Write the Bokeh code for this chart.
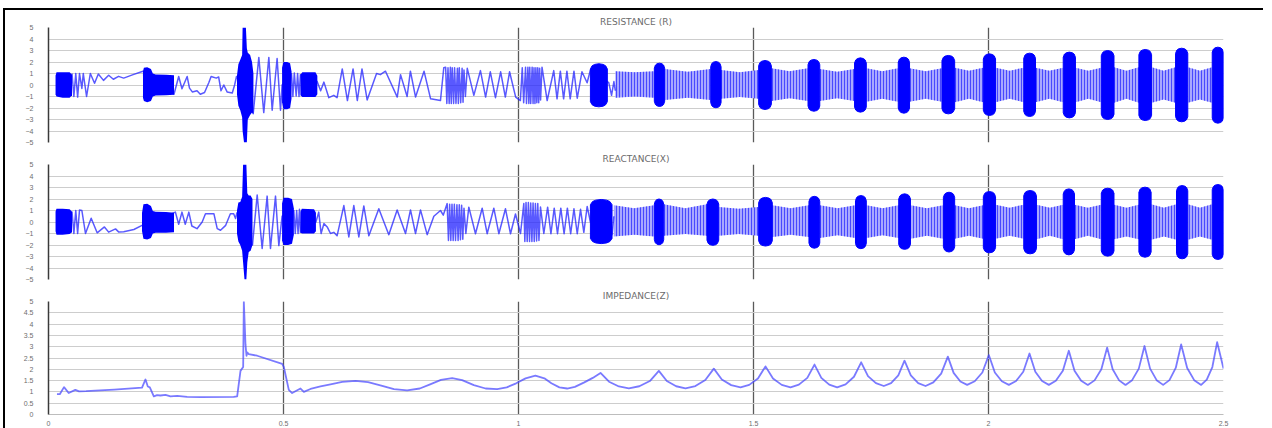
from bokeh.plotting import figure
from bokeh.layouts import column
from bokeh.models import Range1d, FixedTicker
from bokeh.embed import file_html
from bokeh.resources import INLINE

# ---------------- data ----------------
x_ticks = [0, 0.5, 1, 1.5, 2, 2.5]
x_tick_labels = ["0", "0.5", "1", "1.5", "2", "2.5"]
rx_ticks = [-5, -4, -3, -2, -1, 0, 1, 2, 3, 4, 5]
z_ticks = [0, 0.5, 1, 1.5, 2, 2.5, 3, 3.5, 4, 4.5, 5]
z_tick_labels = ["0", "0.5", "1", "1.5", "2", "2.5", "3", "3.5", "4", "4.5", "5"]
titles = ["RESISTANCE (R)", "REACTANCE(X)", "IMPEDANCE(Z)"]

# --- Resistance: resolved oscillation turning points
r_wave_t = [0.050, 0.054, 0.058, 0.062, 0.066, 0.071, 0.074, 0.081, 0.089, 0.098, 0.106, 0.117, 0.128, 0.138, 0.149, 0.160, 0.180, 0.201,
            0.267, 0.277, 0.284, 0.295, 0.300, 0.306, 0.316, 0.323, 0.332, 0.341, 0.346, 0.357, 0.362, 0.367, 0.373, 0.380, 0.391, 0.396, 0.400,
            0.4355, 0.4475, 0.458, 0.4688, 0.4759, 0.4864, 0.4936, 0.497,
            0.517, 0.520, 0.523, 0.527, 0.530, 0.533, 0.536,
            0.5716, 0.579, 0.586, 0.5965, 0.607, 0.614, 0.625, 0.636, 0.648, 0.657, 0.667, 0.678, 0.698, 0.706, 0.717, 0.742, 0.749, 0.763, 0.770, 0.781, 0.799, 0.813, 0.834, 0.841,
            0.845, 0.8475, 0.850, 0.8525, 0.855, 0.857, 0.859, 0.862, 0.864, 0.867, 0.870, 0.872, 0.874, 0.877, 0.880, 0.882, 0.884,
            0.887, 0.891, 0.905, 0.919, 0.930, 0.940, 0.951, 0.962, 0.972, 0.981, 0.994, 1.004, 1.008,
            1.011, 1.015, 1.017, 1.020, 1.022, 1.024, 1.026, 1.029, 1.031, 1.033, 1.035, 1.037, 1.039, 1.041, 1.043, 1.045,
            1.047, 1.050, 1.061, 1.075, 1.082, 1.089, 1.096, 1.103, 1.110, 1.118, 1.125, 1.135, 1.146, 1.153,
            1.192, 1.198, 1.203, 1.206]
r_wave_v = [1.0, -1.0, 1.0, -1.05, 1.0, -0.3, 1.0, -1.0, 1.0, 0.15, 0.95, 0.4, 0.85, 0.5, 0.75, 0.6, 0.9, 1.2,
            -0.8, 0.74, -0.33, 0.74, -0.27, -0.6, -0.5, -0.8, -0.65, 0.2, 0.74, 0.6, 0.7, -0.5, 0.0, -0.6, -0.7, 0.0, 0.74,
            -2.5, 2.4, -2.4, 2.4, -2.2, 2.3, -2.2, 0.0,
            1.0, -1.0, 1.05, -0.95, 1.0, -1.0, 0.9,
            0.3, -0.5, 0.25, -1.1, -0.9, -1.1, 1.4, -1.35, 1.4, -1.35, 1.4, -1.3, 1.0, 0.9, 1.2, -1.05, 0.9, -1.0, 1.2, -1.05, 1.2, -1.2, -1.35, 1.5,
            1.55, -1.6, 1.5, -1.6, 1.55, -1.6, 1.5, -1.6, 1.5, -1.6, 1.45, -1.6, 1.5, -1.55, 1.45, -1.5, 1.3,
            -1.0, 1.45, -0.9, 1.25, -1.05, 1.15, -1.1, 1.15, -1.05, 1.15, -1.05, -1.35, 1.5,
            -1.55, 1.55, -1.6, 1.55, -1.6, 1.55, -1.6, 1.55, -1.6, 1.5, -1.6, 1.5, -1.55, 1.5, -1.55, 1.45,
            -1.3, 1.55, -1.35, 1.25, -1.2, 1.2, -1.2, 1.2, -1.2, 1.2, -1.15, 1.15, 0.2, 1.3,
            0.2, -0.9, 0.3, -0.5]
# --- Resistance: irregular dense bursts (envelopes)
r_env_t = [[0.015, 0.017, 0.030, 0.045, 0.050],
           [0.201, 0.203, 0.210, 0.218, 0.222, 0.228, 0.250, 0.267],
           [0.401, 0.404, 0.408, 0.412, 0.413, 0.416, 0.420, 0.422, 0.424, 0.429, 0.433, 0.436],
           [0.497, 0.500, 0.508, 0.514, 0.517],
           [0.536, 0.540, 0.568, 0.572]]
r_env_hi = [[0.8, 1.1, 1.1, 1.1, 0.9],
            [1.2, 1.5, 1.55, 1.4, 1.0, 0.92, 0.9, 0.85],
            [0.8, 1.8, 2.2, 2.6, 5.0, 5.0, 5.0, 3.2, 2.8, 2.6, 2.0, 1.0],
            [1.5, 2.0, 2.0, 1.9, 1.2],
            [0.9, 1.1, 1.1, 0.8]]
r_env_lo = [[-0.8, -1.0, -1.1, -1.1, -0.9],
            [-1.1, -1.4, -1.5, -1.4, -1.0, -0.92, -0.9, -0.85],
            [-0.8, -1.8, -2.2, -2.8, -4.0, -5.0, -5.0, -5.0, -3.0, -2.6, -2.4, -2.5],
            [-1.5, -2.1, -2.1, -2.0, -1.2],
            [-0.9, -1.05, -1.05, -0.8]]
# --- Resistance: periodic dark bursts
r_cap_t0 = [1.153, 1.289, 1.409, 1.511, 1.616, 1.715, 1.808, 1.901, 1.989, 2.075, 2.159, 2.240, 2.320, 2.398, 2.476]
r_cap_t1 = [1.189, 1.311, 1.431, 1.538, 1.641, 1.740, 1.832, 1.928, 2.015, 2.100, 2.185, 2.267, 2.347, 2.424, 2.500]
r_cap_hi = [1.85, 1.9, 2.04, 2.13, 2.22, 2.36, 2.42, 2.57, 2.71, 2.77, 2.86, 3.0, 3.09, 3.2, 3.29]
r_cap_lo = [-1.9, -1.87, -1.98, -2.13, -2.28, -2.36, -2.45, -2.51, -2.65, -2.74, -2.86, -3.0, -3.09, -3.2, -3.32]
# --- Resistance: lighter dense bands between bursts
r_band_t0 = [1.206, 1.311, 1.431, 1.538, 1.641, 1.740, 1.832, 1.928, 2.015, 2.100, 2.185, 2.267, 2.347, 2.424]
r_band_t1 = [1.289, 1.409, 1.511, 1.616, 1.715, 1.808, 1.901, 1.989, 2.075, 2.159, 2.240, 2.320, 2.398, 2.476]
r_band_hi_edge = [1.2, 1.4, 1.3, 1.45, 1.4, 1.45, 1.45, 1.5, 1.5, 1.5, 1.5, 1.55, 1.55, 1.55]
r_band_hi_mid = [1.1, 1.15, 1.1, 1.2, 1.15, 1.2, 1.2, 1.25, 1.25, 1.25, 1.25, 1.25, 1.25, 1.25]
r_band_lo_edge = [-1.1, -1.3, -1.2, -1.4, -1.4, -1.45, -1.45, -1.5, -1.5, -1.5, -1.5, -1.55, -1.55, -1.55]
r_band_lo_mid = [-1.0, -1.1, -1.05, -1.15, -1.15, -1.2, -1.2, -1.2, -1.2, -1.2, -1.2, -1.2, -1.25, -1.25]

# --- Reactance
x_wave_t = [0.050, 0.054, 0.058, 0.062, 0.066, 0.071, 0.0787, 0.0908, 0.1035, 0.119, 0.128, 0.1426, 0.1496, 0.160, 0.1816, 0.199,
            0.270, 0.277, 0.284, 0.291, 0.2986, 0.305, 0.316, 0.327, 0.334, 0.352, 0.359, 0.366, 0.377, 0.387, 0.394, 0.398, 0.401,
            0.434, 0.444, 0.4546, 0.4652, 0.4723, 0.4830, 0.4901, 0.497,
            0.522, 0.525, 0.528, 0.531, 0.534, 0.536,
            0.569, 0.575, 0.580, 0.586, 0.593, 0.600, 0.607, 0.614, 0.6284, 0.6390, 0.6496, 0.6603, 0.6709, 0.6816, 0.7028, 0.7241, 0.7418, 0.7596, 0.7702, 0.7809, 0.7915, 0.8057, 0.8199, 0.834, 0.840,
            0.8482, 0.851, 0.8535, 0.856, 0.8585, 0.861, 0.8635, 0.866, 0.869, 0.8715, 0.874, 0.8765, 0.879, 0.8815, 0.884,
            0.888, 0.8943, 0.9085, 0.9227, 0.9333, 0.9475, 0.9582, 0.9723, 0.983, 0.9936, 1.0043, 1.0113,
            1.0135, 1.016, 1.0185, 1.021, 1.0235, 1.026, 1.0285, 1.031, 1.0335, 1.036, 1.0385, 1.041, 1.0435, 1.0468,
            1.0539, 1.062, 1.069, 1.076, 1.083, 1.090, 1.097, 1.104, 1.111, 1.118, 1.125, 1.132, 1.139, 1.1461, 1.1531,
            1.194, 1.199, 1.203]
x_wave_v = [0.9, -1.0, 1.0, -1.0, 1.05, 1.0, -1.0, 0.33, -0.94, -0.43, -0.88, -0.6, -0.88, -0.85, -0.65, -0.3,
            0.86, -0.2, 0.86, -0.2, 0.86, -0.35, -0.58, 0.0, 0.71, 0.71, -0.58, -0.72, -0.29, 0.71, 0.71, 0.3, 0.8,
            -2.0, 2.35, -2.3, 2.25, -2.3, 2.25, -2.05, 0.5,
            1.0, -1.0, 1.0, -1.0, 1.1, -0.9,
            0.0, 0.86, -1.0, -0.14, -0.43, -1.0, -0.9, -1.2, 1.43, -1.3, 1.43, -1.3, 1.4, -1.2, 1.15, -1.1, 1.05, -1.0, 1.05, -1.0, 1.05, -1.1, 0.5, 1.0, 0.6,
            1.6, -1.6, 1.55, -1.6, 1.55, -1.6, 1.55, -1.6, 1.5, -1.6, 1.5, -1.55, 1.45, -1.5, 1.2,
            -1.0, 1.29, -1.02, 1.2, -1.02, 1.2, -1.02, 1.15, -1.02, 0.7, -1.0, 1.6,
            -1.7, 1.7, -1.7, 1.7, -1.7, 1.65, -1.7, 1.65, -1.7, 1.6, -1.65, 1.6, -1.6, 1.3,
            -1.0, 1.29, -1.02, 1.2, -1.02, 1.2, -1.02, 1.2, -1.02, 1.15, -1.02, 1.1, -0.9, 1.35, 0.0,
            0.86, -1.1, 0.5]
x_env_t = [[0.015, 0.017, 0.030, 0.045, 0.050],
           [0.199, 0.202, 0.210, 0.218, 0.222, 0.228, 0.250, 0.267],
           [0.401, 0.404, 0.408, 0.412, 0.414, 0.417, 0.421, 0.423, 0.426, 0.430, 0.434],
           [0.497, 0.500, 0.510, 0.518, 0.522],
           [0.536, 0.539, 0.565, 0.569]]
x_env_hi = [[0.9, 1.15, 1.15, 1.1, 0.9],
            [0.8, 1.55, 1.58, 1.4, 0.95, 0.9, 0.86, 0.8],
            [1.0, 1.7, 1.75, 2.2, 5.0, 5.0, 5.0, 2.5, 2.3, 2.3, 2.0],
            [1.6, 2.1, 2.1, 2.0, 1.2],
            [0.9, 1.15, 1.1, 0.8]]
x_env_lo = [[-0.8, -1.1, -1.1, -1.05, -0.9],
            [-0.8, -1.45, -1.52, -1.4, -1.0, -0.94, -0.94, -0.9],
            [-1.0, -1.7, -2.0, -2.5, -3.5, -5.0, -5.0, -3.5, -2.6, -2.5, -2.0],
            [-1.6, -2.0, -2.0, -1.9, -1.1],
            [-0.9, -1.0, -1.0, -0.8]]
x_cap_t0 = [1.153, 1.289, 1.401, 1.511, 1.618, 1.717, 1.809, 1.904, 1.989, 2.075, 2.159, 2.240, 2.320, 2.400, 2.476]
x_cap_t1 = [1.199, 1.309, 1.426, 1.540, 1.641, 1.740, 1.834, 1.928, 2.015, 2.102, 2.183, 2.267, 2.346, 2.424, 2.500]
x_cap_hi = [1.96, 2.0, 2.0, 2.14, 2.23, 2.3, 2.45, 2.59, 2.65, 2.74, 2.88, 2.94, 3.03, 3.17, 3.26]
x_cap_lo = [-1.88, -1.98, -2.03, -2.09, -2.28, -2.32, -2.38, -2.61, -2.68, -2.77, -2.86, -2.97, -3.06, -3.2, -3.26]
x_band_t0 = [1.203, 1.309, 1.426, 1.540, 1.641, 1.740, 1.834, 1.928, 2.015, 2.102, 2.183, 2.267, 2.346, 2.424]
x_band_t1 = [1.289, 1.401, 1.511, 1.618, 1.717, 1.809, 1.904, 1.989, 2.075, 2.159, 2.240, 2.320, 2.400, 2.476]
x_band_hi_edge = [1.45, 1.55, 1.3, 1.45, 1.45, 1.45, 1.45, 1.45, 1.5, 1.5, 1.5, 1.5, 1.55, 1.55]
x_band_hi_mid = [1.2, 1.2, 1.15, 1.2, 1.2, 1.2, 1.2, 1.2, 1.25, 1.25, 1.25, 1.25, 1.25, 1.25]
x_band_lo_edge = [-1.25, -1.2, -1.2, -1.3, -1.4, -1.4, -1.45, -1.45, -1.45, -1.5, -1.5, -1.5, -1.55, -1.55]
x_band_lo_mid = [-1.1, -1.05, -1.05, -1.1, -1.15, -1.15, -1.2, -1.2, -1.2, -1.2, -1.2, -1.25, -1.25, -1.25]

# --- Impedance
z_t = [0.018, 0.024, 0.033, 0.043, 0.057, 0.065, 0.080, 0.140, 0.199, 0.2064, 0.2113, 0.2156, 0.2241, 0.231, 0.238, 0.2489, 0.2596, 0.2738, 0.295, 0.3234,
       0.394, 0.4014, 0.4085, 0.4142, 0.4156, 0.4191, 0.4213, 0.4227, 0.4262, 0.4440, 0.4972, 0.5007, 0.5113, 0.5184, 0.5362, 0.5433, 0.5574, 0.5787,
       0.600, 0.625, 0.6532, 0.680, 0.708, 0.735, 0.7631, 0.790, 0.812, 0.835, 0.8589, 0.880, 0.905, 0.930, 0.9546, 0.975, 0.995, 1.015, 1.036, 1.055,
       1.070, 1.087, 1.1035, 1.120, 1.140, 1.158, 1.1745,
       1.1926, 1.2137, 1.2348, 1.2571, 1.2795, 1.2986, 1.3156, 1.3355, 1.3553, 1.3764, 1.3975, 1.4156, 1.4326, 1.4525, 1.4723,
       1.4909, 1.5095, 1.5255, 1.5415, 1.5601, 1.5787, 1.5966, 1.6145, 1.6298, 1.6443, 1.6611, 1.6780, 1.6959, 1.7138, 1.7291,
       1.7436, 1.7604, 1.7773, 1.7927, 1.8081, 1.8213, 1.8347, 1.8504, 1.8660, 1.8826, 1.8993, 1.9135, 1.9258, 1.9402, 1.9546,
       1.9707, 1.9869, 2.0007, 2.0135, 2.0284, 2.0433, 2.0587, 2.0740, 2.0872, 2.0996, 2.1140, 2.1284, 2.1433, 2.1582, 2.1709,
       2.1830, 2.1972, 2.2113, 2.2257, 2.2401, 2.2525, 2.2642, 2.2779, 2.2915, 2.3056, 2.3198, 2.3319, 2.3438, 2.3577, 2.3716,
       2.3850, 2.3984, 2.4099, 2.4227, 2.4376, 2.4525, 2.4644, 2.4763, 2.4865, 2.5]
z_v = [0.9, 0.9, 1.21, 0.95, 1.09, 1.02, 1.03, 1.1, 1.19, 1.55, 1.24, 1.2, 0.8, 0.86, 0.84, 0.87, 0.8, 0.82, 0.78, 0.77,
       0.78, 0.8, 1.93, 2.1, 5.0, 3.1, 2.6, 2.75, 2.67, 2.6, 2.24, 2.1, 1.09, 0.95, 1.15, 1.0, 1.13, 1.24,
       1.33, 1.44, 1.49, 1.43, 1.28, 1.12, 1.07, 1.15, 1.33, 1.53, 1.61, 1.52, 1.3, 1.15, 1.12, 1.2, 1.38, 1.6, 1.72, 1.6,
       1.38, 1.2, 1.15, 1.22, 1.42, 1.62, 1.84,
       1.45, 1.24, 1.16, 1.25, 1.48, 1.93, 1.48, 1.25, 1.16, 1.26, 1.53, 2.03, 1.55, 1.30, 1.2,
       1.31, 1.59, 2.13, 1.59, 1.31, 1.2, 1.32, 1.62, 2.21, 1.62, 1.32, 1.2, 1.33, 1.67, 2.31,
       1.70, 1.39, 1.26, 1.39, 1.73, 2.38, 1.73, 1.39, 1.26, 1.42, 1.81, 2.56, 1.84, 1.46, 1.31,
       1.47, 1.86, 2.63, 1.86, 1.47, 1.31, 1.48, 1.89, 2.7, 1.89, 1.48, 1.31, 1.49, 1.94, 2.82,
       1.94, 1.49, 1.31, 1.51, 2.0, 2.96, 2.0, 1.51, 1.31, 1.52, 2.03, 3.03, 2.03, 1.52, 1.31,
       1.52, 2.06, 3.1, 2.06, 1.52, 1.31, 1.54, 2.10, 3.2, 2.03]

assert len(r_wave_t) == len(r_wave_v)
assert len(x_wave_t) == len(x_wave_v)
assert len(z_t) == len(z_v)

# ---------------- styling ----------------
DARK = "#0000ff"
WAVE = "#2222ff"
BAND_FILL = "#a8a8ff"
BAND_HATCH = "#3030ff"
GRID_H = "#cdcdcd"
GRID_V = "#5a5a5a"
LABEL = "#6e6e6e"
FW = 1175


def base_fig(title, y0, y1, yticks, fh, top, bottom, show_x):
    p = figure(frame_width=FW, frame_height=fh, x_range=Range1d(0, 2.5), y_range=Range1d(y0, y1),
               output_backend="svg", toolbar_location=None, title=title,
               min_border_left=43, min_border_right=40, min_border_top=top, min_border_bottom=bottom,
               background_fill_color="white", border_fill_color="white", outline_line_color=None)
    p.title.align = "center"
    p.title.text_font = "DejaVu Sans"
    p.title.text_font_size = "9px"
    p.title.text_font_style = "normal"
    p.title.text_color = "#6b6b6b"
    p.title.standoff = 2
    p.xaxis.ticker = FixedTicker(ticks=x_ticks)
    p.xgrid.grid_line_color = GRID_V
    p.xgrid.grid_line_width = 1.3
    p.yaxis.ticker = FixedTicker(ticks=yticks)
    p.ygrid.grid_line_color = GRID_H
    p.ygrid.grid_line_width = 1
    p.yaxis.axis_line_color = "#3a3a3a"
    p.yaxis.axis_line_width = 1.5
    p.yaxis.major_tick_line_color = None
    p.yaxis.minor_tick_line_color = None
    p.yaxis.major_label_text_font = "Liberation Sans"
    p.yaxis.major_label_text_font_size = "7px"
    p.yaxis.major_label_text_color = LABEL
    p.yaxis.major_label_standoff = 9
    if show_x:
        p.xaxis.axis_line_color = "#bdbdbd"
        p.xaxis.major_tick_line_color = None
        p.xaxis.minor_tick_line_color = None
        p.xaxis.major_label_text_font = "Liberation Sans"
        p.xaxis.major_label_text_font_size = "7px"
        p.xaxis.major_label_text_color = LABEL
        p.xaxis.major_label_standoff = 0
        p.xaxis.major_label_overrides = dict(zip(x_ticks, x_tick_labels))
    else:
        p.xaxis.visible = False
    return p


def draw_signal(p, wt, wv, et, ehi, elo, c0, c1, chi, clo, b0, b1, bhe, bhm, ble, blm):
    bxs, bys = [], []
    for a, b, he, hm, le, lm in zip(b0, b1, bhe, bhm, ble, blm):
        m = (a + b) / 2
        bxs.append([a, m, b, b, m, a])
        bys.append([he, hm, he, le, lm, le])
    p.patches(bxs, bys, fill_color=BAND_FILL, line_color=None,
              hatch_pattern="vertical_line", hatch_color=BAND_HATCH, hatch_scale=3,
              hatch_weight=1, hatch_alpha=0.8)
    p.line(wt, wv, line_color=WAVE, line_width=1.5, line_alpha=0.75, line_join="round")
    for t, hi, lo in zip(et, ehi, elo):
        p.varea(x=t, y1=lo, y2=hi, fill_color=DARK)
    cxs, cys = [], []
    r = 0.45
    for a, b, hi, lo in zip(c0, c1, chi, clo):
        w = b - a
        m = (a + b) / 2
        cxs.append([a, a + 0.1 * w, a + 0.25 * w, m, b - 0.25 * w, b - 0.1 * w, b,
                    b, b - 0.1 * w, b - 0.25 * w, m, a + 0.25 * w, a + 0.1 * w, a])
        cys.append([hi - r, hi - 0.4 * r, hi - 0.13 * r, hi, hi - 0.13 * r, hi - 0.4 * r, hi - r,
                    lo + r, lo + 0.4 * r, lo + 0.13 * r, lo, lo + 0.13 * r, lo + 0.4 * r, lo + r])
    p.patches(cxs, cys, fill_color=DARK, line_color=DARK, line_width=1)


p1 = base_fig(titles[0], -5, 5, rx_ticks, 115, 17, 8, False)
draw_signal(p1, r_wave_t, r_wave_v, r_env_t, r_env_hi, r_env_lo,
            r_cap_t0, r_cap_t1, r_cap_hi, r_cap_lo,
            r_band_t0, r_band_t1, r_band_hi_edge, r_band_hi_mid, r_band_lo_edge, r_band_lo_mid)

p2 = base_fig(titles[1], -5, 5, rx_ticks, 115, 14, 7, False)
draw_signal(p2, x_wave_t, x_wave_v, x_env_t, x_env_hi, x_env_lo,
            x_cap_t0, x_cap_t1, x_cap_hi, x_cap_lo,
            x_band_t0, x_band_t1, x_band_hi_edge, x_band_hi_mid, x_band_lo_edge, x_band_lo_mid)

p3 = base_fig(titles[2], 0, 5, z_ticks, 113, 15, 8, True)
p3.yaxis.major_label_overrides = dict(zip(z_ticks, z_tick_labels))
p3.line(z_t, z_v, line_color="#4646ff", line_width=1.8, line_alpha=0.72, line_join="round")

layout = column(p1, p2, p3, spacing=0,
                styles={"margin-left": "3px", "margin-top": "8px",
                        "border-top": "2px solid #000000", "border-left": "2px solid #000000"})

open("out.html", "w").write(file_html(layout, INLINE))
